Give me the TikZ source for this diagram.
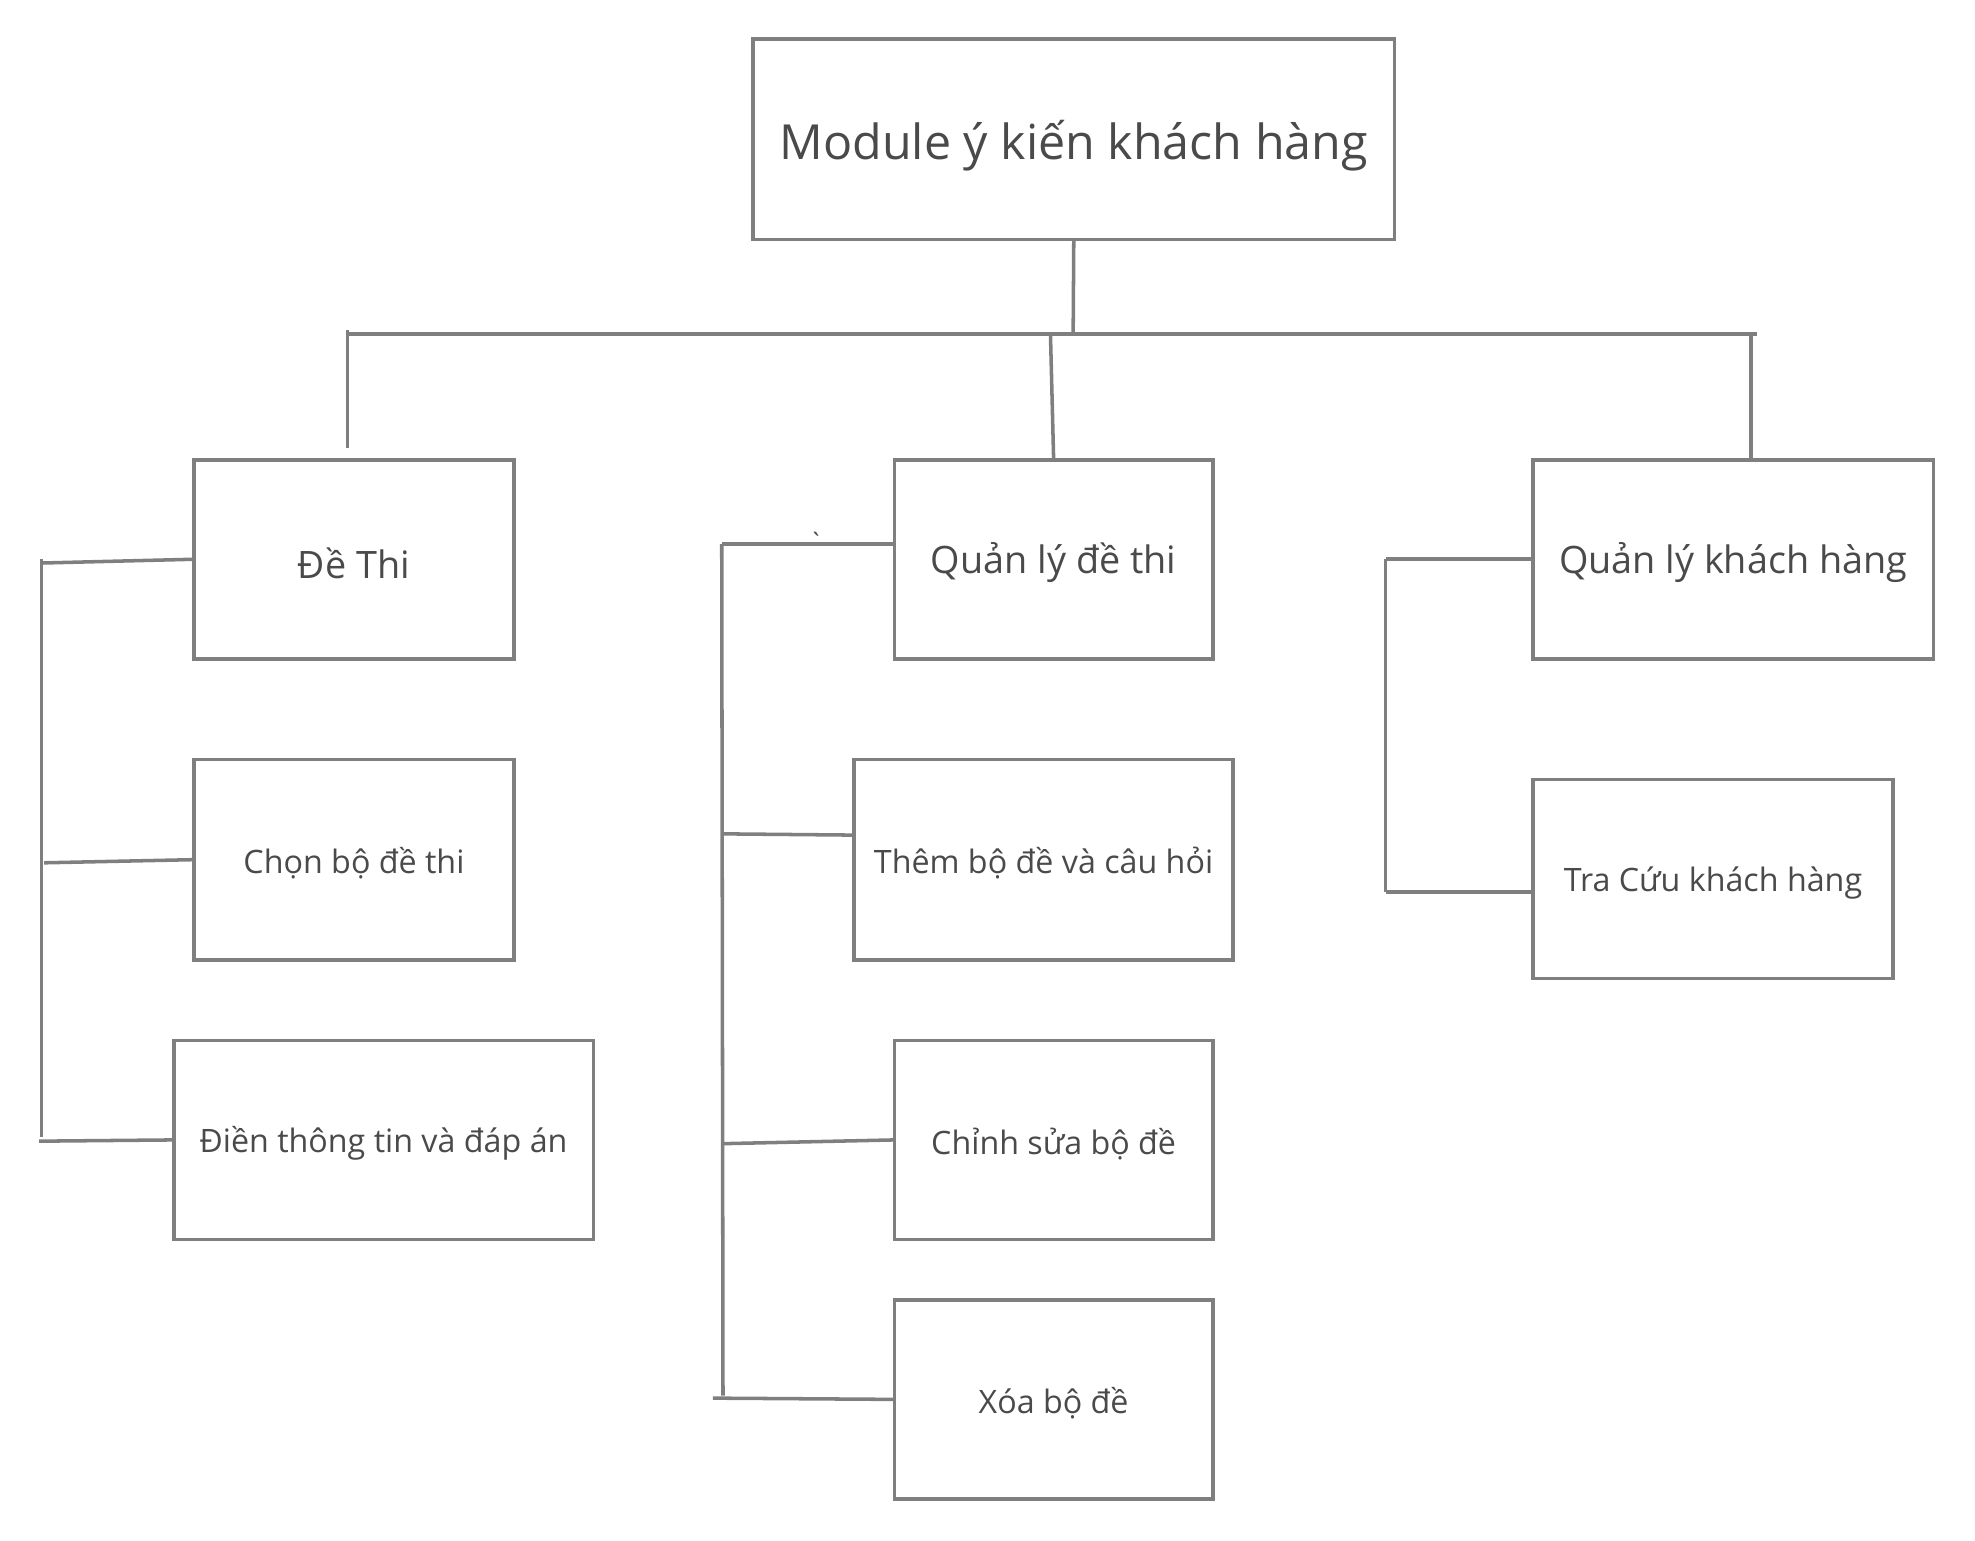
\documentclass[tikz,border=0pt]{standalone}
\usepackage{fontspec}
\setmainfont{Open Sans}
\newfontfamily\rawfont{Open Sans}
\usetikzlibrary{calc}
\definecolor{linegray}{HTML}{7F7F7F}
\definecolor{textgray}{HTML}{4A4A4A}
\newcommand{\dn}[2]{\raisebox{-#1pt}[\height][\depth]{#2}}
\tikzset{
  box/.style={draw=linegray, line width=2.8pt, rectangle, inner sep=0pt, outer sep=0pt,
    text=textgray, align=center},
  conn/.style={draw=linegray, line width=2.8pt},
  rootfont/.style={font=\fontsize{38.4}{44}\selectfont},
  midfont/.style={font=\fontsize{30}{34}\selectfont},
  leaffont/.style={font=\fontsize{25.6}{30}\selectfont},
}
\begin{document}
\begin{tikzpicture}[x=1pt,y=-1pt]
\useasboundingbox (0,0) rectangle (1568,1223);
% boxes
\node[box,rootfont,minimum width=509pt,minimum height=159pt] (root) at (852.5,110.5) {\dn{5}{Module ý kiến khách hàng}};
\node[box,midfont,minimum width=254pt,minimum height=158pt] (dethi) at (281,444) {\dn{3}{Đề Thi}};
\node[box,leaffont,minimum width=254pt,minimum height=159pt] (chon) at (281,682.5) {\dn{3}{Chọn bộ đề thi}};
\node[box,leaffont,minimum width=333pt,minimum height=158pt] (dien) at (304.5,905) {\dn{3}{Điền thông tin và đáp án}};
\node[box,midfont,minimum width=253pt,minimum height=158pt] (qlde) at (836.5,444) {\dn{3}{Quản lý đề thi}};
\node[box,leaffont,minimum width=301pt,minimum height=159pt] (them) at (828.5,682.5) {\dn{3}{Thêm bộ đề và câu hỏi}};
\node[box,leaffont,minimum width=253pt,minimum height=158pt] (chinh) at (836.5,905) {\dn{3}{Chỉnh sửa bộ đề}};
\node[box,leaffont,minimum width=253pt,minimum height=158pt] (xoa) at (836.5,1111) {\dn{3}{Xóa bộ đề}};
\node[box,midfont,minimum width=318pt,minimum height=158pt] (qlkh) at (1376,444) {\dn{3}{Quản lý khách hàng}};
\node[box,leaffont,minimum width=286pt,minimum height=158pt] (tracuu) at (1360,698) {\dn{3}{Tra Cứu khách hàng}};
% stray accent mark
\node[text=textgray,inner sep=0pt,font=\rawfont\fontsize{20}{20}\selectfont] (mark) at (648,430) {\char"60};
% coordinates
\coordinate (rootdrop) at (852,264);
\coordinate (barL) at (275,265);
\coordinate (barR) at (1395,265);
\coordinate (ldropT) at (276,262);
\coordinate (ldropB) at (276,356);
\coordinate (mdropT) at (834,266);
\coordinate (rdropT) at (1390,265);
\coordinate (rdropB) at (1390,365);
\coordinate (lsT) at (33,444);
\coordinate (lsB) at (33,903);
\coordinate (l1) at (33,447);
\coordinate (l2) at (35,685);
\coordinate (l3) at (31,906);
\coordinate (msT) at (573,432);
\coordinate (msB) at (574,1108);
\coordinate (m2) at (573,662);
\coordinate (m3) at (573,908);
\coordinate (m4) at (566,1110);
\coordinate (rsT) at (1100,444);
\coordinate (rsB) at (1100,708);
% top level
\draw[conn] (root.south) -- (rootdrop);
\draw[conn] (barL) -- (barR);
\draw[conn] (ldropT) -- (ldropB);
\draw[conn] (mdropT) -- (qlde.north);
\draw[conn] (rdropT) -- (rdropB);
% left group
\draw[conn] (lsT) -- (lsB);
\draw[conn] (l1) -- (dethi.west);
\draw[conn] (l2) -- (chon.west);
\draw[conn] (l3) -- (dien.west);
% middle group
\draw[conn] (msT) -- (msB);
\draw[conn] (msT) -- ($(qlde.west)+(0,-12)$);
\draw[conn] (m2) -- ($(them.west)+(0,-19.5)$);
\draw[conn] (m3) -- (chinh.west);
\draw[conn] (m4) -- (xoa.west);
% right group
\draw[conn] (rsT) -- (qlkh.west);
\draw[conn] (rsT) -- (rsB);
\draw[conn] (rsB) -- (tracuu.west |- rsB);
\end{tikzpicture}
\end{document}
